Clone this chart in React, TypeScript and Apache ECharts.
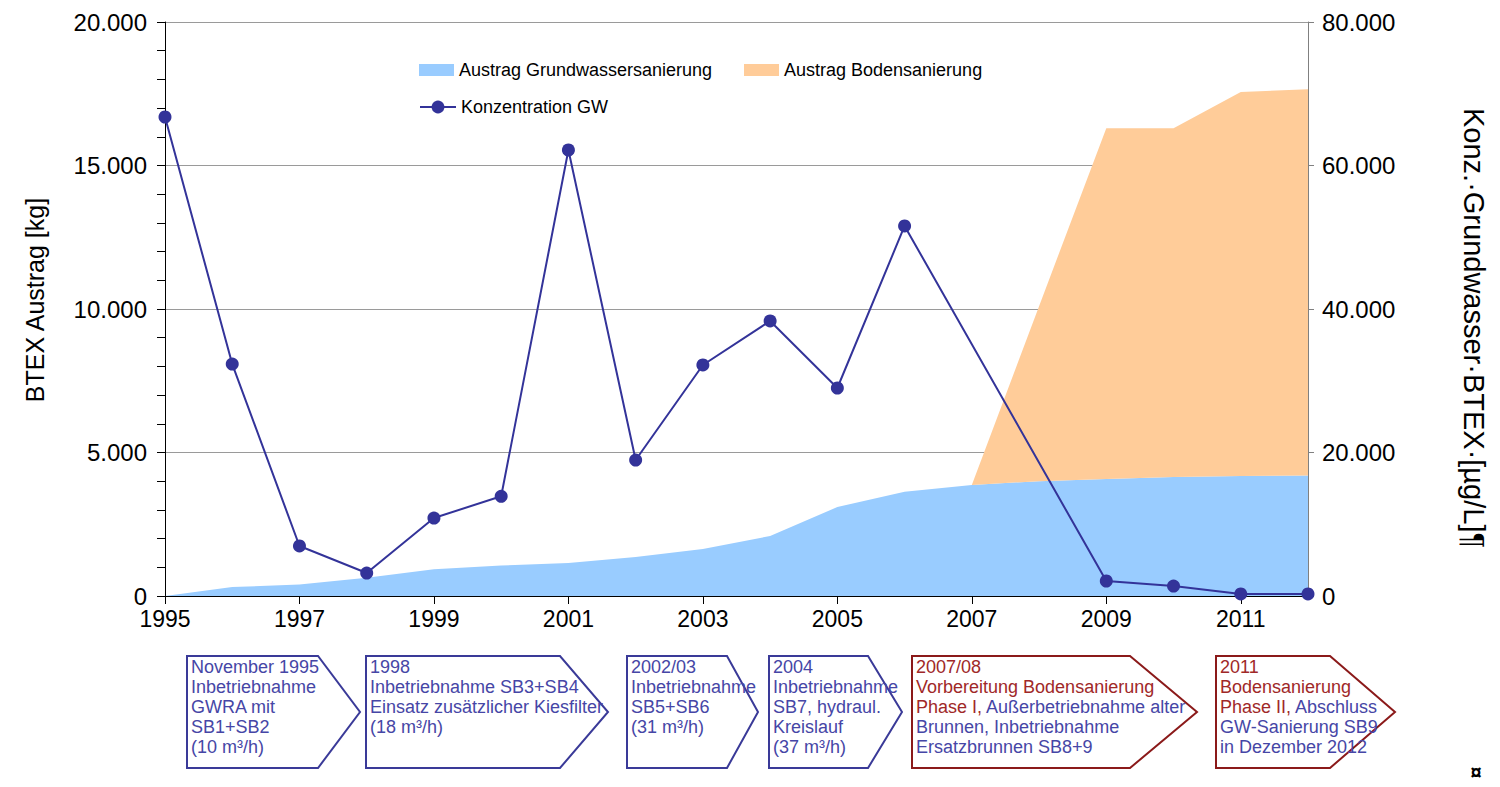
import React, { useEffect, useRef } from "react";
import * as echarts from "echarts";

const FONT = "'Liberation Sans', Arial, sans-serif";

// ---- data ----
const years = ["1995","1996","1997","1998","1999","2000","2001","2002","2003","2004","2005","2006","2007","2008","2009","2010","2011","2012"];
const gwAustrag = [0, 310, 400, 640, 930, 1060, 1150, 1360, 1640, 2090, 3100, 3630, 3870, 4000, 4080, 4150, 4180, 4200];
const bodenAustrag = [null, null, null, null, null, null, null, null, null, null, null, null, 0, 6100, 12220, 12150, 13380, 13460];
const konzGW = [66760, 32330, 6970, 3200, 10870, 13900, 62160, 18950, 32200, 38330, 28990, 51570, null, null, 2090, 1390, 280, 280];

const leftTicks = { min: 0, max: 20000, interval: 5000 };
const rightTicks = { min: 0, max: 80000, interval: 20000 };

const SERIES_GW = "Austrag Grundwassersanierung";
const SERIES_BODEN = "Austrag Bodensanierung";
const SERIES_KONZ = "Konzentration GW";

// annotation texts: [styleKey, text] segments per line
const boxTexts: [string, string][][][] = [
  [[["b", "November 1995"]], [["b", "Inbetriebnahme"]], [["b", "GWRA mit"]], [["b", "SB1+SB2"]], [["b", "(10 m³/h)"]]],
  [[["b", "1998"]], [["b", "Inbetriebnahme SB3+SB4"]], [["b", "Einsatz zusätzlicher Kiesfilter"]], [["b", "(18 m³/h)"]]],
  [[["b", "2002/03"]], [["b", "Inbetriebnahme"]], [["b", "SB5+SB6"]], [["b", "(31 m³/h)"]]],
  [[["b", "2004"]], [["b", "Inbetriebnahme"]], [["b", "SB7, hydraul."]], [["b", "Kreislauf"]], [["b", "(37 m³/h)"]]],
  [[["r", "2007/08"]], [["r", "Vorbereitung Bodensanierung"]], [["r", "Phase I,"], ["b", " Außerbetriebnahme alter"]], [["b", "Brunnen, Inbetriebnahme"]], [["b", "Ersatzbrunnen SB8+9"]]],
  [[["r", "2011"]], [["r", "Bodensanierung"]], [["r", "Phase II,"], ["b", " Abschluss"]], [["b", "GW-Sanierung SB9"]], [["b", "in Dezember 2012"]]],
];

// ---- layout / styles ----
const boxGeom = [
  { l: 187, d: 318, t: 360, red: false },
  { l: 366, d: 560, t: 608, red: false },
  { l: 627, d: 727, t: 758, red: false },
  { l: 769, d: 868, t: 902, red: false },
  { l: 912, d: 1130, t: 1197, red: true },
  { l: 1216, d: 1330, t: 1395, red: true },
];
const BOX_TOP = 656;
const BOX_BOTTOM = 768;
const BOX_MID = 712;

const C_BLUE_AREA = "#99CCFF";
const C_ORANGE = "#FFCC99";
const C_LINE = "#333399";
const C_BORDER_BLUE = "#3A3A98";
const C_BORDER_RED = "#8B1A1A";
const C_TEXT_BLUE = "#4646A6";
const C_TEXT_RED = "#A02828";

const fmt = (v: number) => String(v).replace(/\B(?=(\d{3})+(?!\d))/g, ".");

export default function App() {
  const ref = useRef<HTMLDivElement>(null);

  useEffect(() => {
    if (!ref.current) return;
    const chart = echarts.init(ref.current, undefined, { renderer: "svg" });

    const rich = {
      b: { fill: C_TEXT_BLUE, fontSize: 18, fontFamily: FONT, lineHeight: 20 },
      r: { fill: C_TEXT_RED, fontSize: 18, fontFamily: FONT, lineHeight: 20 },
    };

    const boxGraphics: any[] = [];
    boxGeom.forEach((g, i) => {
      boxGraphics.push({
        type: "polygon",
        shape: {
          points: [
            [g.l, BOX_TOP],
            [g.d, BOX_TOP],
            [g.t, BOX_MID],
            [g.d, BOX_BOTTOM],
            [g.l, BOX_BOTTOM],
          ],
        },
        style: { fill: "#fff", stroke: g.red ? C_BORDER_RED : C_BORDER_BLUE, lineWidth: 2 },
      });
      const text = boxTexts[i]
        .map((segs) => segs.map(([k, s]) => `{${k}|${s}}`).join(""))
        .join("\n");
      boxGraphics.push({
        type: "text",
        x: g.l + 4,
        y: BOX_TOP + 1,
        style: { text, rich, verticalAlign: "top", align: "left", fontFamily: FONT, fontSize: 18 },
      });
    });

    const option: any = {
      animation: false,
      backgroundColor: "#ffffff",
      textStyle: { fontFamily: FONT },
      grid: { left: 165, right: 192, top: 22, bottom: 191 },
      legend: [
        {
          left: 419, top: 61, padding: 0, itemWidth: 35, itemHeight: 12,
          data: [{ name: SERIES_GW, icon: "rect" }],
          textStyle: { fontSize: 18, color: "#000", fontFamily: FONT },
        },
        {
          left: 744, top: 61, padding: 0, itemWidth: 35, itemHeight: 12,
          data: [{ name: SERIES_BODEN, icon: "rect" }],
          textStyle: { fontSize: 18, color: "#000", fontFamily: FONT },
        },
        {
          left: 419, top: 98, padding: 0, itemWidth: 36, itemHeight: 16,
          data: [{ name: SERIES_KONZ }],
          textStyle: { fontSize: 18, color: "#000", fontFamily: FONT },
        },
      ],
      xAxis: {
        type: "category",
        data: years,
        boundaryGap: false,
        axisLine: { lineStyle: { color: "#000", width: 1 } },
        axisTick: { interval: 1, length: 8, lineStyle: { color: "#000" } },
        axisLabel: { interval: 1, fontSize: 23, lineHeight: 22, color: "#000", margin: 12, fontFamily: FONT },
        splitLine: { show: false },
      },
      yAxis: [
        {
          type: "value",
          position: "left",
          min: leftTicks.min,
          max: leftTicks.max,
          interval: leftTicks.interval,
          axisLine: { show: true, lineStyle: { color: "#000", width: 1 } },
          axisTick: { show: true, length: 8, lineStyle: { color: "#000" } },
          minorTick: { show: true, splitNumber: 5, length: 8, lineStyle: { color: "#000" } },
          splitLine: { show: true, lineStyle: { color: "#9a9a9a", width: 1 } },
          axisLabel: { fontSize: 24, lineHeight: 20, color: "#000", margin: 18, formatter: fmt, fontFamily: FONT },
        },
        {
          type: "value",
          position: "right",
          min: rightTicks.min,
          max: rightTicks.max,
          interval: rightTicks.interval,
          axisLine: { show: true, lineStyle: { color: "#808080", width: 1 } },
          axisTick: { show: true, length: 6, lineStyle: { color: "#808080" } },
          splitLine: { show: false },
          axisLabel: { fontSize: 24, color: "#000", margin: 14, formatter: fmt, fontFamily: FONT },
        },
      ],
      series: [
        {
          name: SERIES_GW,
          type: "line",
          stack: "austrag",
          yAxisIndex: 0,
          data: gwAustrag,
          symbol: "none",
          lineStyle: { width: 0 },
          itemStyle: { color: C_BLUE_AREA },
          areaStyle: { color: C_BLUE_AREA, opacity: 1 },
          z: 1,
        },
        {
          name: SERIES_BODEN,
          type: "line",
          stack: "austrag",
          yAxisIndex: 0,
          data: bodenAustrag,
          symbol: "none",
          lineStyle: { width: 0 },
          itemStyle: { color: C_ORANGE },
          areaStyle: { color: C_ORANGE, opacity: 1 },
          z: 1,
        },
        {
          name: SERIES_KONZ,
          type: "line",
          yAxisIndex: 1,
          data: konzGW,
          connectNulls: true,
          symbol: "circle",
          symbolSize: 13,
          showAllSymbol: true,
          lineStyle: { color: C_LINE, width: 2 },
          itemStyle: { color: C_LINE },
          z: 5,
        },
      ],
      graphic: [
        {
          type: "text",
          x: 35,
          y: 300,
          rotation: Math.PI / 2,
          style: {
            text: "BTEX Austrag [kg]",
            fontSize: 25,
            fontFamily: FONT,
            fill: "#000",
            align: "center",
            verticalAlign: "middle",
          },
        },
        {
          type: "text",
          x: 1474,
          y: 328,
          rotation: -Math.PI / 2,
          style: {
            text: "Konz.·Grundwasser·BTEX·[µg/L]¶",
            fontSize: 29,
            fontFamily: FONT,
            fill: "#000",
            align: "center",
            verticalAlign: "middle",
          },
        },
        {
          type: "text",
          x: 1476,
          y: 772,
          style: {
            text: "¤",
            fontSize: 20,
            fontWeight: "bold",
            fontFamily: FONT,
            fill: "#000",
            align: "center",
            verticalAlign: "middle",
          },
        },
        ...boxGraphics,
      ],
    };

    chart.setOption(option);
    return () => chart.dispose();
  }, []);

  return (
    <div
      ref={ref}
      style={{ position: "fixed", left: 0, top: 0, width: 1500, height: 787, background: "#fff" }}
    />
  );
}
